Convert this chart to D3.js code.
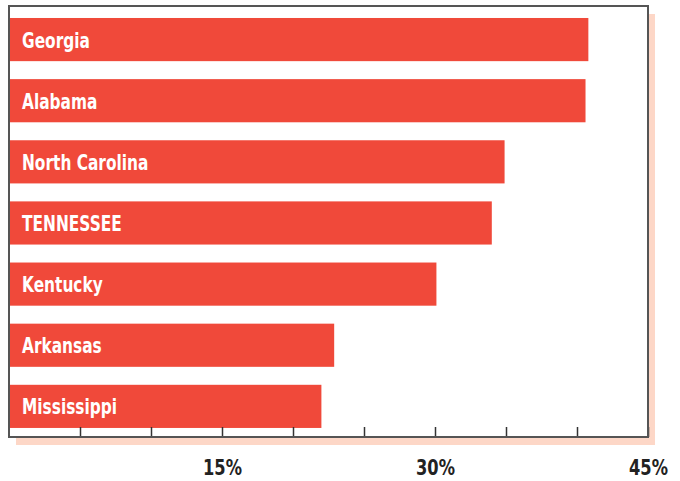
<!DOCTYPE html>
<html>
<head>
<meta charset="utf-8">
<script src="https://cdn.jsdelivr.net/npm/d3@7"></script>
<style>
  body { margin: 0; background: #fff; }
  text { font-family: "DejaVu Sans", sans-serif; font-weight: bold; }
</style>
</head>
<body>
<script>
var states = ["Georgia", "Alabama", "North Carolina", "TENNESSEE", "Kentucky", "Arkansas", "Mississippi"];
var shares = [40.8, 40.6, 34.9, 34.0, 30.1, 22.9, 22.0];
var tickVals = [5, 10, 15, 20, 25, 30, 35, 40, 45];
var labelVals = [15, 30, 45];

var width = 680, height = 481;
var plotL = 9, plotT = 6, plotR = 648, plotB = 437;
var squeeze = 0.7; // condensed look

var svg = d3.select("body")
            .append("svg")
            .attr("width", width)
            .attr("height", height);

// shadow behind the frame
svg.append("rect")
   .attr("x", plotL + 7)
   .attr("y", plotT + 8)
   .attr("width", plotR - plotL)
   .attr("height", plotB - plotT)
   .attr("fill", "#fdd7c7");

svg.append("rect")
   .attr("x", plotL)
   .attr("y", plotT)
   .attr("width", plotR - plotL)
   .attr("height", plotB - plotT)
   .attr("fill", "#fff");

var x = d3.scaleLinear().domain([0, 45]).range([plotL, plotR]);
var y = d3.scaleBand()
          .domain(states)
          .range([plotT, plotB])
          .paddingInner(0.294)
          .paddingOuter(0.172)
          .align(0.57);

svg.selectAll("rect.bar")
   .data(states)
   .enter()
   .append("rect")
   .attr("class", "bar")
   .attr("x", x(0))
   .attr("y", function(d) { return y(d); })
   .attr("width", function(d, i) { return x(shares[i]) - x(0); })
   .attr("height", y.bandwidth())
   .attr("fill", "#f0493a");

svg.selectAll("text.lab")
   .data(states)
   .enter()
   .append("text")
   .attr("class", "lab")
   .text(function(d) { return d; })
   .attr("transform", function(d) {
        return "translate(22," + (y(d) + y.bandwidth() / 2 + 8) + ") scale(" + squeeze + ",1)";
   })
   .attr("font-size", "22px")
   .attr("fill", "white");

var axis = d3.axisBottom(x)
             .tickValues(tickVals)
             .tickSizeInner(-10)
             .tickSizeOuter(0)
             .tickPadding(22)
             .tickFormat(function(d) { return labelVals.indexOf(d) >= 0 ? d + "%" : ""; });

var g = svg.append("g")
   .attr("transform", "translate(0," + plotB + ")")
   .call(axis);
g.select(".domain").remove();
g.selectAll(".tick line").attr("stroke", "#333").attr("stroke-width", 1.5);
g.selectAll(".tick text")
 .attr("fill", "#222")
 .attr("font-size", "22px")
 .attr("font-family", "\"DejaVu Sans\", sans-serif")
 .attr("font-weight", "bold")
 .attr("transform", "scale(0.74,1)");

// frame
svg.append("rect")
   .attr("x", plotL)
   .attr("y", plotT)
   .attr("width", plotR - plotL)
   .attr("height", plotB - plotT)
   .attr("fill", "none")
   .attr("stroke", "#555")
   .attr("stroke-width", 2);
</script>
</body>
</html>
